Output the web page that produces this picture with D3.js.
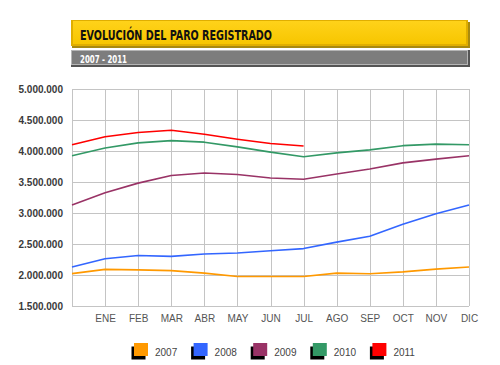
<!DOCTYPE html>
<html>
<head>
<meta charset="utf-8">
<script src="https://cdn.jsdelivr.net/npm/d3@7"></script>
<style>
  body { margin: 0; background: #fff; }
  svg { display: block; }
</style>
</head>
<body>
<svg id="chart"></svg>
<script>
const months = ["ENE", "FEB", "MAR", "ABR", "MAY", "JUN", "JUL", "AGO", "SEP", "OCT", "NOV", "DIC"]
const yTicks = [1500000, 2000000, 2500000, 3000000, 3500000, 4000000, 4500000, 5000000]
const years = ["2007", "2008", "2009", "2010", "2011"]
const colors = ["#ff9900", "#3366ff", "#993366", "#339966", "#ff0000"]

// first value = December of the previous year, then ENE..DIC
const paro2007 = [2022873, 2090935, 2082000, 2071000, 2030000, 1975000, 1975000, 1975000, 2030000, 2020000, 2050000, 2095000, 2129547]
const paro2008 = [2129547, 2261811, 2315331, 2300975, 2338517, 2353985, 2390403, 2426185, 2530001, 2625368, 2818026, 2989269, 3128963]
const paro2009 = [3128963, 3327801, 3481859, 3605402, 3644041, 3620139, 3564889, 3544105, 3629080, 3709447, 3808353, 3868946, 3923603]
const paro2010 = [3923603, 4048493, 4130625, 4166613, 4142425, 4066202, 3982368, 3908261, 3969661, 4017763, 4085976, 4110294, 4100073]
const paro2011 = [4100073, 4231003, 4299263, 4333669, 4269360, 4189659, 4121801, 4079742]

const series = [paro2007, paro2008, paro2009, paro2010, paro2011]

const width = 500
const height = 365
const margin = {top: 89, right: 31, bottom: 59, left: 72}

const svg = d3.select("svg#chart")
  .attr("width", width)
  .attr("height", height)
  .attr("viewBox", `0 0 ${width} ${height}`)

const fontAxis = "Arial, 'Liberation Sans', sans-serif"
const fontTitle = "'DejaVu Sans Condensed', 'DejaVu Sans', sans-serif"

// ---- title bars ----
const defs = svg.append("defs")
const yg = defs.append("linearGradient").attr("id", "yellow").attr("x1", 0).attr("y1", 0).attr("x2", 0).attr("y2", 1)
yg.append("stop").attr("offset", "0%").attr("stop-color", "#ffd21a")
yg.append("stop").attr("offset", "100%").attr("stop-color", "#f7c600")

svg.append("rect").attr("x", 72).attr("y", 22).attr("width", 398).attr("height", 26).attr("fill", "#a88a10")
svg.append("rect").attr("x", 71).attr("y", 20).attr("width", 397).attr("height", 26).attr("fill", "#e0ae00")
svg.append("rect").attr("x", 73).attr("y", 21).attr("width", 393).attr("height", 23).attr("fill", "url(#yellow)")
svg.append("text")
  .attr("x", 80).attr("y", 39.5)
  .attr("font-family", fontTitle)
  .attr("font-weight", "bold")
  .attr("font-size", 14)
  .attr("textLength", 192)
  .attr("lengthAdjust", "spacingAndGlyphs")
  .attr("fill", "#111")
  .text("EVOLUCIÓN DEL PARO REGISTRADO")

svg.append("rect").attr("x", 71).attr("y", 50).attr("width", 399).attr("height", 17).attr("fill", "#555")
svg.append("rect").attr("x", 71).attr("y", 50).attr("width", 397).attr("height", 15).attr("fill", "#b5b5b5")
svg.append("rect").attr("x", 72).attr("y", 51).attr("width", 395).attr("height", 13).attr("fill", "#7d7d7d")
svg.append("text")
  .attr("x", 80).attr("y", 63)
  .attr("font-family", fontTitle)
  .attr("font-weight", "bold")
  .attr("font-size", 10.5)
  .attr("textLength", 47)
  .attr("lengthAdjust", "spacingAndGlyphs")
  .attr("fill", "#fff")
  .text("2007 - 2011")

// ---- scales ----
const x = d3.scaleLinear()
  .domain([0, 12])
  .range([margin.left, width - margin.right])

const y = d3.scaleLinear()
  .domain([1500000, 5000000])
  .range([height - margin.bottom, margin.top])

const es = d3.formatLocale({decimal: ",", thousands: ".", grouping: [3], currency: ["", "€"]})
const fmt = es.format(",d")

// grid
const grid = svg.append("g").attr("stroke", "#c4c4c4").attr("stroke-width", 1).attr("shape-rendering", "crispEdges")
grid.selectAll("line.h").data(yTicks).join("line")
  .attr("x1", x(0)).attr("x2", x(12))
  .attr("y1", d => Math.round(y(d)) + 0.5).attr("y2", d => Math.round(y(d)) + 0.5)
grid.selectAll("line.v").data(d3.range(0, 13)).join("line")
  .attr("x1", d => Math.round(x(d)) + 0.5).attr("x2", d => Math.round(x(d)) + 0.5)
  .attr("y1", y(5000000)).attr("y2", y(1500000))

// axes
svg.append("g")
  .attr("transform", `translate(${margin.left - 9},0)`)
  .call(d3.axisLeft(y).tickValues(yTicks).tickFormat(fmt).tickSize(0).tickPadding(0))
  .call(g => g.select(".domain").remove())
  .call(g => g.selectAll("text")
    .attr("font-family", fontAxis).attr("font-size", 10).attr("font-weight", "bold").attr("fill", "#3a3a3a"))

svg.append("g")
  .attr("transform", `translate(0,${height - margin.bottom})`)
  .call(d3.axisBottom(x).tickValues(d3.range(1, 13)).tickFormat(i => months[i - 1]).tickSize(0).tickPadding(9))
  .call(g => g.select(".domain").remove())
  .call(g => g.selectAll("text")
    .attr("font-family", fontAxis).attr("font-size", 10).attr("fill", "#555"))

// lines
const line = d3.line()
  .x((d, i) => x(i))
  .y(d => y(d))

svg.append("g")
  .selectAll("path")
  .data(series)
  .join("path")
    .attr("d", d => line(d))
    .attr("fill", "none")
    .attr("stroke", (d, i) => colors[i])
    .attr("stroke-width", 1.6)
    .attr("stroke-linejoin", "round")

// legend
const legend = svg.append("g")
  .selectAll("g")
  .data(years)
  .join("g")
    .attr("transform", (d, i) => `translate(${134 + i * 59.6},343)`)

legend.append("rect")
  .attr("x", -2.5).attr("y", 3.5).attr("width", 14).attr("height", 13)
  .attr("fill", "#000")
legend.append("rect")
  .attr("x", 0).attr("y", 0).attr("width", 14).attr("height", 13)
  .attr("fill", (d, i) => colors[i])
legend.append("text")
  .attr("x", 21).attr("y", 12.5)
  .attr("font-family", fontAxis)
  .attr("font-size", 10)
  .attr("fill", "#444")
  .text(d => d)
</script>
</body>
</html>
